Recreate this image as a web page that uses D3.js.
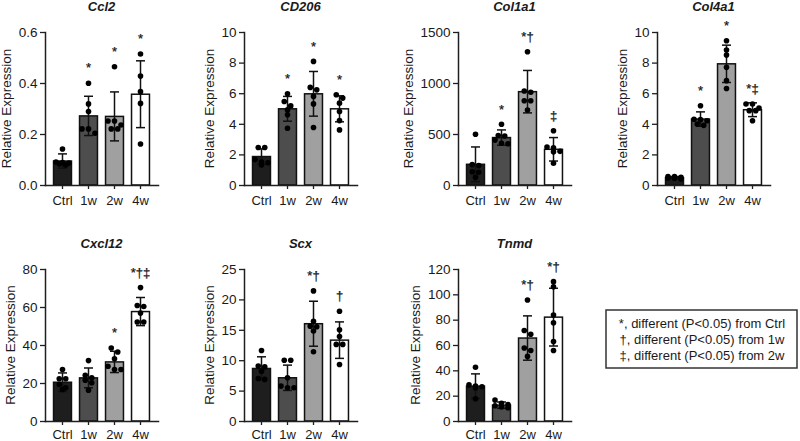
<!DOCTYPE html>
<html><head><meta charset="utf-8">
<script src="https://cdn.jsdelivr.net/npm/d3@7"></script>
<style>
body{margin:0;background:#fff}
svg{display:block}
text{font-family:"Liberation Sans", Arial, Helvetica, sans-serif; fill:#1a1a1a}
</style>
</head><body>
<svg id="chart" width="800" height="441"></svg>
<script>
// ---------- DATA ----------
const groups = ["Ctrl", "1w", "2w", "4w"];

const ccl2Mean = [0.094, 0.271, 0.269, 0.356];
const ccl2SD = [0.028, 0.077, 0.096, 0.131];
const ccl2Points = [[0.141, 0.090, 0.088, 0.086, 0.083, 0.078], [0.399, 0.318, 0.288, 0.22, 0.22, 0.203], [0.464, 0.251, 0.251, 0.235, 0.22, 0.22], [0.514, 0.427, 0.366, 0.32, 0.161]];
const ccl2Ticks = [0, 0.2, 0.4, 0.6];
const ccl2Sig = ["", "*", "*", "*"];

const cd206Mean = [1.86, 4.98, 5.96, 4.98];
const cd206SD = [0.50, 0.81, 1.46, 0.85];
const cd206Points = [[2.45, 2.45, 1.66, 1.5, 1.45, 1.3], [5.96, 5.46, 5.17, 4.91, 4.59, 3.71], [8.08, 6.38, 6.22, 5.79, 5.3, 3.76], [5.9, 5.68, 5.35, 4.8, 4.21, 3.6]];
const cd206Ticks = [0, 2, 4, 6, 8, 10];
const cd206Sig = ["", "*", "*", "*"];

const col1a1Mean = [203, 465, 915, 350];
const col1a1SD = [170, 75, 208, 115];
const col1a1Points = [[497, 200, 190, 130, 125, 75], [595, 485, 480, 440, 410, 405], [1307, 922, 909, 826, 826, 735], [532, 372, 365, 330, 325, 213]];
const col1a1Ticks = [0, 500, 1000, 1500];
const col1a1Sig = ["", "*", "*\u2020", "\u2021"];

const col4a1Mean = [0.48, 4.31, 7.92, 4.92];
const col4a1SD = [0.07, 0.47, 1.22, 0.45];
const col4a1Points = [[0.56, 0.56, 0.5, 0.46, 0.44, 0.4], [5.18, 4.3, 4.27, 4.2, 3.99, 3.9], [9.43, 8.82, 8.5, 7.69, 6.82, 6.31], [5.29, 5.29, 5.03, 4.86, 4.86, 4.2]];
const col4a1Ticks = [0, 2, 4, 6, 8, 10];
const col4a1Sig = ["", "*", "*", "*\u2021"];

const cxcl12Mean = [20.4, 22.7, 31.1, 57.6];
const cxcl12SD = [4.9, 5.2, 5.6, 7.4];
const cxcl12Points = [[27.1, 22.2, 22.2, 19.2, 17.5, 16.6], [31.8, 24.1, 22.7, 21.5, 20.1, 16.2], [38.4, 36.3, 32.8, 28.8, 27.1, 27.1], [70.2, 60.8, 60.3, 56.8, 52.1, 52.1]];
const cxcl12Ticks = [0, 20, 40, 60, 80];
const cxcl12Sig = ["", "", "*", "*\u2020\u2021"];

const scxMean = [8.64, 7.11, 16.0, 13.3];
const scxSD = [1.92, 2.08, 3.7, 3.0];
const scxPoints = [[11.6, 9.03, 8.9, 8.2, 7.0, 6.84], [10.0, 10.0, 7.11, 5.74, 5.47, 5.47], [21.4, 16.4, 15.6, 15.5, 14.8, 11.4], [18.05, 15.0, 13.9, 12.6, 12.6, 9.3]];
const scxTicks = [0, 5, 10, 15, 20, 25];
const scxSig = ["", "", "*\u2020", "\u2020"];

const tnmdMean = [27.5, 12.5, 65.5, 82.0];
const tnmdSD = [9.7, 2.5, 17.5, 22.8];
const tnmdPoints = [[42.4, 28.5, 27.5, 27, 26, 17.6], [16.5, 14, 13, 12, 11, 10.5], [95.5, 71.4, 68.5, 57.6, 55.7, 51], [110, 106, 83.7, 77.6, 62.7, 55.7]];
const tnmdTicks = [0, 20, 40, 60, 80, 100, 120];
const tnmdSig = ["", "", "*\u2020", "*\u2020"];

const legendLines = ["*, different (P<0.05) from Ctrl", "\u2020, different (P<0.05) from 1w", "\u2021, different (P<0.05) from 2w"];
const yLabel = "Relative Expression";

// ---------- PANELS ----------
const panels = [
  {title: "Ccl2", means: ccl2Mean, sds: ccl2SD, points: ccl2Points, ticks: ccl2Ticks, sig: ccl2Sig, fmt: d3.format(".1f")},
  {title: "CD206", means: cd206Mean, sds: cd206SD, points: cd206Points, ticks: cd206Ticks, sig: cd206Sig, fmt: d3.format("d")},
  {title: "Col1a1", means: col1a1Mean, sds: col1a1SD, points: col1a1Points, ticks: col1a1Ticks, sig: col1a1Sig, fmt: d3.format("d")},
  {title: "Col4a1", means: col4a1Mean, sds: col4a1SD, points: col4a1Points, ticks: col4a1Ticks, sig: col4a1Sig, fmt: d3.format("d")},
  {title: "Cxcl12", means: cxcl12Mean, sds: cxcl12SD, points: cxcl12Points, ticks: cxcl12Ticks, sig: cxcl12Sig, fmt: d3.format("d")},
  {title: "Scx", means: scxMean, sds: scxSD, points: scxPoints, ticks: scxTicks, sig: scxSig, fmt: d3.format("d")},
  {title: "Tnmd", means: tnmdMean, sds: tnmdSD, points: tnmdPoints, ticks: tnmdTicks, sig: tnmdSig, fmt: d3.format("d")}
];

const layout = [
  {x: 45, top: 32, bottom: 185, pad: 6.5},
  {x: 244, top: 32, bottom: 185, pad: 6.5},
  {x: 458, top: 32, bottom: 185, pad: 6.5},
  {x: 657, top: 32, bottom: 185, pad: 6.5},
  {x: 45, top: 269, bottom: 421, pad: 4.5},
  {x: 244, top: 269, bottom: 421, pad: 4.5},
  {x: 458, top: 269, bottom: 421, pad: 4.5}
];

const barFill = ["#1e1e1e", "#4d4d4d", "#a0a0a0", "#ffffff"];
const axisColor = "#1f1f1f";
const plotW = 113;
const dotR = 2.8;

const svg = d3.select("#chart");

panels.forEach((p, i) => {
  const L = layout[i];
  const g = svg.append("g");
  const x = d3.scaleBand().domain(groups).range([L.x, L.x + plotW]).paddingInner(0.31).paddingOuter(0.328);
  const y = d3.scaleLinear().domain([0, d3.max(p.ticks)]).range([L.bottom, L.top]);
  const bw = x.bandwidth();

  // bars
  g.selectAll("rect.bar").data(groups).join("rect")
    .attr("x", d => x(d)).attr("width", bw)
    .attr("y", (d, k) => y(p.means[k]))
    .attr("height", (d, k) => L.bottom - y(p.means[k]))
    .attr("fill", (d, k) => barFill[k])
    .attr("stroke", "#111").attr("stroke-width", 1.5);

  // error bars
  groups.forEach((gname, k) => {
    const cx = x(gname) + bw / 2;
    const yHi = y(p.means[k] + p.sds[k]);
    const yLo = y(Math.max(0, p.means[k] - p.sds[k]));
    const eg = g.append("g").attr("stroke", "#111").attr("stroke-width", 1.5);
    eg.append("line").attr("x1", cx).attr("x2", cx).attr("y1", yHi).attr("y2", yLo);
    eg.append("line").attr("x1", cx - 4.5).attr("x2", cx + 4.5).attr("y1", yHi).attr("y2", yHi);
    eg.append("line").attr("x1", cx - 4.5).attr("x2", cx + 4.5).attr("y1", yLo).attr("y2", yLo);
  });

  // dots (row-grouped symmetric spread)
  groups.forEach((gname, k) => {
    const cx = x(gname) + bw / 2;
    const pts = p.points[k].map(v => ({v, py: y(v)})).sort((a, b) => a.py - b.py);
    const rows = [];
    pts.forEach(pt => {
      const last = rows[rows.length - 1];
      if (last && Math.abs(pt.py - last[0].py) < 4.5 && last.length < 3) last.push(pt);
      else rows.push([pt]);
    });
    rows.forEach(row => {
      row.forEach((pt, j) => { pt.px = cx + (j - (row.length - 1) / 2) * 6.5; });
    });
    g.selectAll(null).data(pts).join("circle")
      .attr("cx", d => d.px).attr("cy", d => d.py).attr("r", dotR).attr("fill", "#000");
  });

  // axes
  const ya = g.append("g").attr("transform", `translate(${L.x},0)`)
    .call(d3.axisLeft(y).tickValues(p.ticks).tickFormat(p.fmt).tickSize(5).tickSizeOuter(0).tickPadding(2.5));
  const xa = g.append("g").attr("transform", `translate(0,${L.bottom})`)
    .call(d3.axisBottom(x).tickSize(4).tickSizeOuter(0).tickPadding(L.pad));
  [ya, xa].forEach(a => {
    a.selectAll("path.domain").attr("stroke", axisColor).attr("stroke-width", 1.5).attr("stroke-linecap", "square");
    a.selectAll(".tick line").attr("stroke", axisColor).attr("stroke-width", 1.3);
    a.selectAll("text").attr("font-size", 13.5).attr("fill", "#1a1a1a").style("font-family", '"Liberation Sans", Arial, sans-serif');
  });
  xa.selectAll("text").attr("font-size", 13);

  // y label
  let maxW = 0;
  ya.selectAll(".tick text").each(function () { maxW = Math.max(maxW, this.getComputedTextLength()); });
  const lx = L.x - 8 - maxW - 11.5;
  const ly = (L.top + L.bottom) / 2;
  g.append("text").attr("transform", `translate(${lx},${ly}) rotate(-90)`)
    .attr("text-anchor", "middle").attr("dy", "0.32em").attr("font-size", 13.5).text(yLabel);

  // title
  g.append("text").attr("x", L.x + plotW / 2).attr("y", L.top - 25.5).attr("dy", "0.35em")
    .attr("text-anchor", "middle").attr("font-size", 13).attr("font-weight", "bold").attr("font-style", "italic")
    .text(p.title);

  // significance marks
  groups.forEach((gname, k) => {
    if (!p.sig[k]) return;
    const cx = x(gname) + bw / 2;
    const topPx = Math.min(y(p.means[k] + p.sds[k]), y(d3.max(p.points[k])) - dotR);
    g.append("text").attr("x", cx).attr("y", topPx - 8)
      .attr("text-anchor", "middle").attr("font-size", 13)
      .attr("fill", "#1a1a1a").attr("stroke", "#1a1a1a").attr("stroke-width", 0.25)
      .text(p.sig[k]);
  });
});

// legend
const lg = svg.append("g");
lg.append("rect").attr("x", 606).attr("y", 310).attr("width", 191).attr("height", 58)
  .attr("fill", "none").attr("stroke", "#333").attr("stroke-width", 1.5);
lg.selectAll("text.leg").data(legendLines).join("text")
  .attr("x", 702).attr("y", (d, i) => 323 + i * 16).attr("dy", "0.35em")
  .attr("text-anchor", "middle").attr("font-size", 13).text(d => d);
</script>
</body></html>
